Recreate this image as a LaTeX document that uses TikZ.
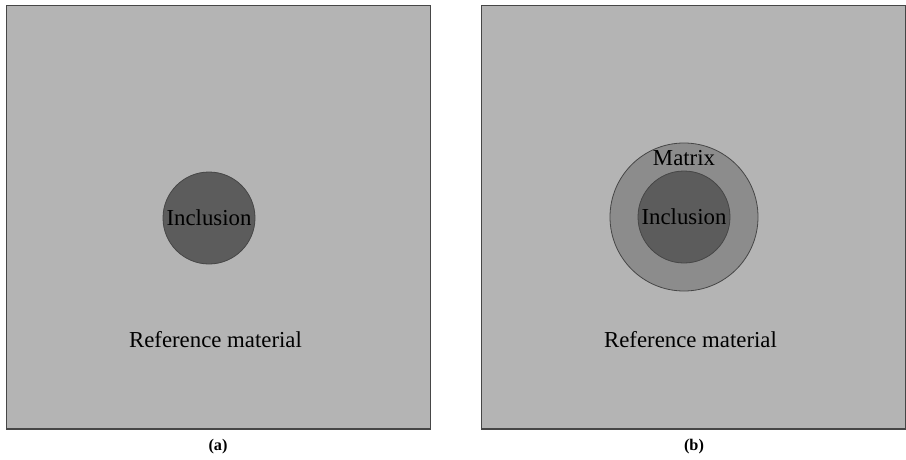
\documentclass[tikz,border=0pt]{standalone}
\usepackage{fontspec}
\setmainfont{Liberation Serif}
\usepackage{tikz}
\usetikzlibrary{calc}
\definecolor{refgray}{RGB}{180,180,180}
\definecolor{matgray}{RGB}{140,140,140}
\definecolor{incgray}{RGB}{92,92,92}
\definecolor{edgegray}{RGB}{70,70,70}
\tikzset{
  panel/.style={draw=edgegray, line width=0.9pt, fill=refgray},
  phase/.style={draw=edgegray, line width=0.6pt},
  lbl/.style={font=\fontsize{17.1}{20}\selectfont, text=black, inner sep=0pt},
  subcap/.style={font=\fontsize{12.2}{14}\selectfont\bfseries, inner sep=0pt}
}

\begin{document}
\begin{tikzpicture}[x=0.75pt,y=-0.75pt]
        \pgfmathsetmacro{\ri}{46}
        \pgfmathsetmacro{\rmat}{74}
        \useasboundingbox (0,0) rectangle (906,460);
        \coordinate (A0) at (6.5,5.5);
        \coordinate (A1) at (430.5,429);
        \coordinate (B0) at (481.5,5.5);
        \coordinate (B1) at (905.5,429);
        \coordinate (Ea) at (209,218);
        \coordinate (Eb) at (684,217);
        % (a) inclusion in reference material
        \draw[panel] (A0) rectangle (A1);
        \draw[phase, fill=incgray] (Ea) circle (\ri);
        \node[lbl] (inca) at (Ea) {Inclusion};
        \node[lbl] (refa) at (215.5,340) {Reference material};
        \node[subcap] (capa) at (218,447) {(a)};
        % (b) coated inclusion
        \draw[panel] (B0) rectangle (B1);
        \draw[phase, fill=matgray] (Eb) circle (\rmat);
        \draw[phase, fill=incgray] (Eb) circle (\ri);
        \node[lbl] (incb) at (Eb) {Inclusion};
        \node[lbl] (matb) at ($ (Eb) + (0,-59) $) {Matrix};
        \node[lbl] (refb) at (690.5,340) {Reference material};
        \node[subcap] (capb) at (694,447) {(b)};
    \end{tikzpicture}
\end{document}
